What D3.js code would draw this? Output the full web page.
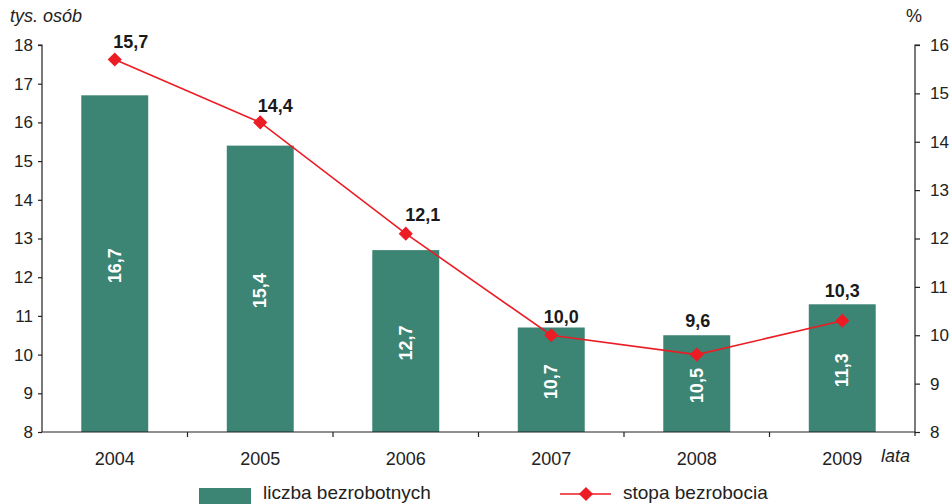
<!DOCTYPE html>
<html><head><meta charset="utf-8">
<script src="https://cdn.jsdelivr.net/npm/d3@7"></script>
<style>
html,body{margin:0;padding:0;background:#fff;}
svg{display:block;font-family:"Liberation Sans",Arial,sans-serif;}
</style></head>
<body>
<svg id="chart" width="952" height="504"></svg>
<script>
const years = ["2004","2005","2006","2007","2008","2009"];
const unemployed = [16.7, 15.4, 12.7, 10.7, 10.5, 11.3];
const rate = [15.7, 14.4, 12.1, 10.0, 9.6, 10.3];
const leftTicks = [8,9,10,11,12,13,14,15,16,17,18];
const rightTicks = [8,9,10,11,12,13,14,15,16];
const fmt = v => v.toFixed(1).replace(".", ",");

const svg = d3.select("#chart");
const L = 42, R = 915, T = 45, B = 432;
const xc = d3.scaleBand().domain(years).range([L, R]);
const yL = d3.scaleLinear().domain([8, 18]).range([B, T]);
const yR = d3.scaleLinear().domain([8, 16]).range([B, T]);
const ink = "#222";
const barW = xc.bandwidth() * 0.46;

// bars
svg.append("g").selectAll("rect").data(years).join("rect")
  .attr("x", d => xc(d) + xc.bandwidth()/2 - barW/2)
  .attr("width", barW)
  .attr("y", (d,i) => yL(unemployed[i]))
  .attr("height", (d,i) => yL(8) - yL(unemployed[i]))
  .attr("fill", "#3c8474");

// bar labels
svg.append("g").selectAll("text").data(years).join("text")
  .attr("transform", (d,i) => `translate(${xc(d)+xc.bandwidth()/2},${(yL(unemployed[i])+yL(8))/2 + 2}) rotate(-90)`)
  .attr("text-anchor","middle").attr("dominant-baseline","central")
  .attr("fill","#fff").attr("font-weight","bold").attr("font-size",18)
  .text((d,i) => fmt(unemployed[i]));

// axes
const axL = d3.axisLeft(yL).tickValues(leftTicks).tickSize(4).tickPadding(5).tickFormat(d3.format("d"));
const gL = svg.append("g").attr("transform",`translate(${L},0)`).call(axL);
const axR = d3.axisRight(yR).tickValues(rightTicks).tickSize(5).tickPadding(10).tickFormat(d3.format("d"));
const gR = svg.append("g").attr("transform",`translate(${R},0)`).call(axR);
const axB = d3.axisBottom(xc).tickSize(0).tickPadding(20);
const gB = svg.append("g").attr("transform",`translate(0,${B})`).call(axB);
[gL,gR,gB].forEach(g => {
  g.select(".domain").attr("stroke", ink).attr("stroke-width",1.2);
  g.selectAll(".tick line").attr("stroke", ink).attr("stroke-width",1.2);
  g.selectAll("text").attr("fill", ink).attr("font-size",17).attr("font-family","Liberation Sans, Arial, sans-serif");
});
gB.selectAll("text").attr("font-size",18);
gL.select(".domain").attr("d", `M-4,${T}H0V${B}`);
gR.select(".domain").attr("d", `M5,${T}H0V${B+4}`);
gB.select(".domain").attr("d", `M${L},0H${R}`);
// x boundary ticks
svg.append("g").selectAll("line").data(years.slice(1)).join("line")
  .attr("x1", d => xc(d)).attr("x2", d => xc(d))
  .attr("y1", B).attr("y2", B+5).attr("stroke", ink).attr("stroke-width",1.2);

// line
const px = i => xc(years[i]) + xc.bandwidth()/2;
const line = d3.line().x((d,i) => px(i)).y(d => yR(d));
svg.append("path").datum(rate).attr("d", line)
  .attr("fill","none").attr("stroke","#ec1c24").attr("stroke-width",1.6);
svg.append("g").selectAll("path").data(rate).join("path")
  .attr("transform", (d,i) => `translate(${px(i)},${yR(d)}) rotate(45)`)
  .attr("d", d3.symbol().type(d3.symbolSquare).size(100))
  .attr("fill","#ec1c24");

// line labels
const ldx = [16, 15, 17, 10, 1, 0];
const ldy = [-12, -10, -13, -12, -28, -24];
svg.append("g").selectAll("text").data(rate).join("text")
  .attr("x", (d,i) => px(i) + ldx[i]).attr("y", (d,i) => yR(d) + ldy[i])
  .attr("text-anchor","middle").attr("font-weight","bold").attr("font-size",18)
  .attr("fill","#1a1a1a").text(d => fmt(d));

// axis titles
svg.append("text").attr("x",10).attr("y",22).attr("font-style","italic").attr("font-size",18).attr("fill",ink).text("tys. osób");
svg.append("text").attr("x",914).attr("y",22).attr("text-anchor","middle").attr("font-size",18).attr("fill",ink).text("%");
svg.append("text").attr("x",881).attr("y",462).attr("font-style","italic").attr("font-size",18).attr("fill",ink).text("lata");

// legend
const lg = svg.append("g");
lg.append("rect").attr("x",199).attr("y",488).attr("width",52).attr("height",16).attr("fill","#3c8474");
lg.append("text").attr("x",263).attr("y",499).attr("font-size",19).attr("fill",ink).text("liczba bezrobotnych");
lg.append("line").attr("x1",560).attr("x2",611).attr("y1",494).attr("y2",494).attr("stroke","#ec1c24").attr("stroke-width",1.6);
lg.append("path").attr("transform","translate(586,494) rotate(45)").attr("d", d3.symbol().type(d3.symbolSquare).size(100)).attr("fill","#ec1c24");
lg.append("text").attr("x",623).attr("y",499).attr("font-size",19).attr("fill",ink).text("stopa bezrobocia");
</script>
</body></html>
